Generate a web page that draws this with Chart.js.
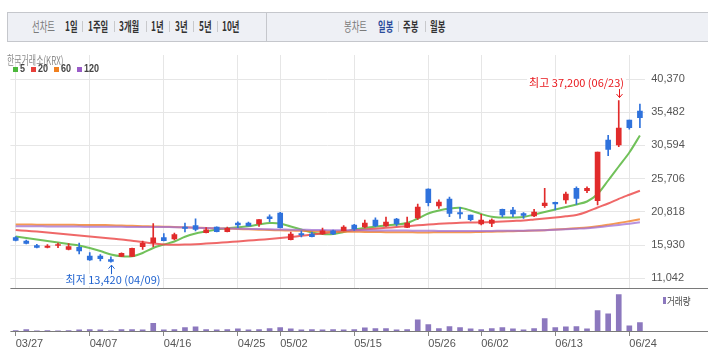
<!DOCTYPE html>
<html><head><meta charset="utf-8">
<script src="https://cdn.jsdelivr.net/npm/chart.js@4"></script>
<style>
body{margin:0;width:708px;height:361px;overflow:hidden;background:#fff;position:relative;font-family:"Noto Sans CJK KR","Noto Sans",sans-serif;}
#bar{position:absolute;left:7px;top:12px;width:702px;height:28px;background:#eef0f5;border:1px solid #c5c7cc;border-right:none;}
#bdiv{position:absolute;left:266px;top:12px;width:1px;height:30px;background:#c5c7cc;}
.t{position:absolute;top:11px;height:30px;line-height:30px;font-size:13px;transform:scaleX(0.64);transform-origin:0 50%;white-space:nowrap;color:#333;font-weight:bold;}
.g{color:#7a7a7a;font-weight:normal;}
.sep{position:absolute;top:21px;width:1px;height:11px;background:#c8c9cc;}
#krx{position:absolute;left:7px;top:52px;font-size:12px;line-height:16px;color:#8a8a8a;transform:scaleX(0.66);transform-origin:0 50%;white-space:nowrap;}
.lg{position:absolute;top:67px;width:5px;height:5px;}
.lt{position:absolute;top:63px;font-size:10px;line-height:12px;font-weight:bold;color:#444;font-family:"Liberation Sans",sans-serif;transform:scaleX(0.9);transform-origin:0 50%;}
#vlg{position:absolute;left:663px;top:297px;width:3px;height:7px;background:#8c78be;}
#vlt{position:absolute;left:667px;top:293px;font-size:10px;line-height:16px;color:#444;transform:scaleX(0.85);transform-origin:0 50%;white-space:nowrap;}
canvas{position:absolute;left:0;}
#pc{top:50px;}
#vc{top:288px;}
</style>
</head><body>
<div id="bar"></div><div id="bdiv"></div>
<span class="t g" style="left:31.7px">선차트</span>
<span class="t" style="left:65px">1일</span><div class="sep" style="left:82px"></div>
<span class="t" style="left:88.3px">1주일</span><div class="sep" style="left:114px"></div>
<span class="t" style="left:119.3px">3개월</span><div class="sep" style="left:145.7px"></div>
<span class="t" style="left:150.7px">1년</span><div class="sep" style="left:169.3px"></div>
<span class="t" style="left:174.7px">3년</span><div class="sep" style="left:193.3px"></div>
<span class="t" style="left:198.7px">5년</span><div class="sep" style="left:216.7px"></div>
<span class="t" style="left:221.7px">10년</span>
<span class="t g" style="left:344.3px">봉차트</span>
<span class="t" style="left:377.7px;color:#2a4b9b">일봉</span><div class="sep" style="left:398.3px"></div>
<span class="t" style="left:403.3px">주봉</span><div class="sep" style="left:425px"></div>
<span class="t" style="left:430px">월봉</span>

<canvas id="pc" width="708" height="240"></canvas>
<canvas id="vc" width="708" height="73"></canvas>

<div id="krx">한국거래소(KRX)</div>
<div class="lg" style="left:12.7px;background:#4cb83c"></div><span class="lt" style="left:19.5px">5</span>
<div class="lg" style="left:31px;background:#e8403a"></div><span class="lt" style="left:38px">20</span>
<div class="lg" style="left:54px;background:#f08020"></div><span class="lt" style="left:61px">60</span>
<div class="lg" style="left:76.7px;background:#9a5cc8"></div><span class="lt" style="left:84px">120</span>
<div id="vlg"></div><div id="vlt">거래량</div>

<script>
const dates = ['03/27','03/28','03/31','04/01','04/02','04/03','04/04','04/07','04/08','04/09',
  '04/10','04/11','04/14','04/15','04/16','04/17','04/18','04/21','04/22','04/23',
  '04/24','04/25','04/28','04/29','04/30','05/02','05/07','05/08','05/09','05/12',
  '05/13','05/14','05/15','05/16','05/19','05/20','05/21','05/22','05/23','05/26',
  '05/27','05/28','05/29','05/30','06/02','06/04','06/05','06/09','06/10','06/11',
  '06/12','06/13','06/16','06/17','06/18','06/19','06/20','06/23','06/24','06/25'];
const tickDates = ['03/27','04/07','04/16','04/25','05/02','05/15','05/26','06/02','06/13','06/24'];
const priceTicks = [11042,15930,20818,25706,30594,35482,40370];

const openP  = [17046,16531,15869,15574,15869,15280,15604,14323,14323,13808,
  14279,14250,15692,16281,17046,16825,18591,18782,17752,18591,
  17899,19179,19179,19032,20106,20651,16722,17605,17561,17561,
  18046,18046,18885,18591,19621,18738,19768,18547,19915,24182,
  21681,22711,20695,20357,19032,19135,21195,21092,20548,20210,
  21725,22225,22564,24285,23932,22461,31393,30657,34336,35660];
const highP  = [17193,16678,16045,16016,16236,16163,16236,14838,14544,14220,
  14794,15500,16531,19077,17634,17708,19179,19812,18488,18620,
  18591,19370,19326,19665,20400,20754,17855,18002,17855,18444,
  18149,18782,18988,19621,19959,20062,19871,20062,21975,24226,
  22608,23005,21490,20357,20460,19812,21240,21490,20695,21195,
  24285,22270,23741,24521,24521,29627,32085,37200,34336,36690];
const lowP   = [16531,16089,15501,15501,15545,15206,14618,13691,13588,13420,
  14220,14220,15309,15692,16531,16678,17855,18002,17708,17870,
  17855,18488,18738,18694,19370,18444,16678,17119,17119,17517,
  17458,18002,18105,18488,18635,18694,18738,18488,19724,21681,
  21343,20106,19871,19474,18885,18635,20062,20106,19871,20106,
  21490,21092,22078,21931,23638,21828,29083,30407,32981,33203];
const closeP = [16604,16163,15574,15795,15986,15721,15059,13735,13926,13544,
  14720,15456,16192,17001,16575,17487,18400,18252,18193,17899,
  18400,18885,18738,19665,19812,18488,17561,17414,17163,18046,
  17561,18591,18296,19179,18738,19326,19032,19179,21534,22166,
  22270,20607,20504,19665,19621,19621,20357,20504,20313,20798,
  22122,21975,23447,22814,24285,29627,30025,33159,33203,34674];
const volume = [30000,131200,28000,31000,29000,30500,128900,132400,127600,29500,
  129800,131500,126900,772300,128400,133100,331900,428700,130600,127300,
  132800,229400,128100,131700,232600,334100,228800,129300,132200,128600,
  130400,127800,131900,329500,231200,233700,128200,130800,1128600,631400,
  229900,432100,331300,228400,129600,231900,332700,229100,128900,232300,
  1231500,329800,428300,431600,228700,2031200,1728400,3630000,528900,831700];
const ma5   = [17193,16972,16751,16531,16310,16089,15869,15501,15059,14544,
  14279,14279,14765,15501,16016,16457,17163,17634,17929,18223,
  18400,18547,18694,18959,19179,19106,18664,18223,17782,17561,
  17561,17855,18223,18444,18635,18812,18959,19179,19842,20577,
  21019,21313,21416,21019,20504,20106,19989,19989,20062,20430,
  20798,21166,21534,21902,22343,23447,25433,27493,29553,32055];
const ma20  = [18149,18032,17914,17767,17620,17472,17325,17178,17046,16899,
  16751,16560,16383,16163,16016,15972,16001,16060,16148,16236,
  16354,16472,16590,16707,16825,16972,17119,17296,17472,17664,
  17855,17973,18105,18223,18341,18473,18591,18709,18841,18959,
  19062,19150,19224,19253,19282,19327,19400,19474,19547,19694,
  19842,19989,20165,20357,20842,21460,22049,22740,23344,23932];
const ma60  = [18959,18950,18940,18930,18920,18910,18900,18890,18885,18850,
  18810,18770,18720,18680,18635,18590,18540,18490,18440,18390,
  18341,18295,18250,18200,18150,18100,18060,18032,17995,17960,
  17929,17910,17890,17870,17850,17830,17811,17805,17800,17800,
  17805,17810,17811,17830,17860,17900,17940,17975,18002,18060,
  18130,18223,18310,18410,18517,18700,18930,19179,19440,19724];
const ma120 = [18709,18700,18690,18680,18670,18660,18650,18640,18635,18625,
  18615,18605,18600,18595,18591,18560,18520,18480,18440,18400,
  18370,18340,18310,18280,18250,18220,18200,18179,18160,18140,
  18120,18110,18100,18095,18090,18085,18076,18065,18050,18035,
  18020,18010,18002,18005,18010,18020,18030,18040,18046,18080,
  18130,18179,18250,18330,18414,18560,18720,18885,19080,19282];

const UP = '#e12b2b', DOWN = '#2f72dc';
const candleColor = openP.map((o,i)=> closeP[i] >= o ? UP : DOWN);
const fmt = v => v.toLocaleString('en-US');
const isTick = i => tickDates.includes(dates[i]);
const AXIS_RIGHT = 62.8, PAD_LEFT = 10.4;
const noPad = s => { s.paddingTop = 0; s.paddingBottom = 0; s.paddingLeft = 0; s.paddingRight = 0; };

const baseLine = {
  id:'baseLine',
  afterDraw(chart){
    const {ctx, chartArea} = chart;
    ctx.save();
    ctx.strokeStyle = '#7a7a7a'; ctx.lineWidth = 1;
    ctx.beginPath();
    const yb = Math.round(chartArea.bottom) + 0.5;
    ctx.moveTo(chartArea.left, yb); ctx.lineTo(chart.width, yb);
    ctx.stroke(); ctx.restore();
  }
};

const annot = {
  id:'annot',
  afterDatasetsDraw(chart){
    const {ctx, scales:{x,y}} = chart;
    const hi = Math.max(...highP), hiIdx = highP.indexOf(hi);
    const lo = Math.min(...lowP), loIdx = lowP.indexOf(lo);
    ctx.save();
    ctx.font = '11px "Noto Sans CJK KR"';
    ctx.textBaseline = 'middle';
    ctx.lineWidth = 1;
    let px = Math.round(x.getPixelForValue(hiIdx)) + 0.5, py = y.getPixelForValue(hi);
    ctx.strokeStyle = ctx.fillStyle = '#e8161b';
    ctx.beginPath();
    ctx.moveTo(px, py-12); ctx.lineTo(px, py-3);
    ctx.moveTo(px-3, py-6.5); ctx.lineTo(px, py-3); ctx.lineTo(px+3, py-6.5);
    ctx.stroke();
    let t = '최고 ' + fmt(hi) + ' (' + dates[hiIdx] + ')';
    let w = ctx.measureText(t).width;
    let tx = px + 4.5 - w, ty = py - 17.5;
    ctx.fillStyle = '#fff'; ctx.fillRect(tx-2, ty-6, w+4, 12);
    ctx.fillStyle = '#e8161b'; ctx.fillText(t, tx, ty);
    px = Math.round(x.getPixelForValue(loIdx)) + 0.5; py = y.getPixelForValue(lo);
    ctx.strokeStyle = ctx.fillStyle = '#1f62cf';
    ctx.beginPath();
    ctx.moveTo(px, py+13); ctx.lineTo(px, py+3);
    ctx.moveTo(px-3, py+6.5); ctx.lineTo(px, py+3); ctx.lineTo(px+3, py+6.5);
    ctx.stroke();
    t = '최저 ' + fmt(lo) + ' (' + dates[loIdx] + ')';
    w = ctx.measureText(t).width;
    tx = px + 1.5 - w/2; ty = py + 18;
    ctx.fillStyle = '#fff'; ctx.fillRect(tx-2, ty-6, w+4, 12);
    ctx.fillStyle = '#1f62cf'; ctx.fillText(t, tx, ty);
    ctx.restore();
  }
};

const maLine = (data, color) => ({
  type:'line', data, borderColor: color, borderWidth: 2, pointRadius: 0,
  tension: 0.3, order: 2
});

new Chart(document.getElementById('pc'), {
  type:'bar',
  data:{
    labels: dates,
    datasets:[
      maLine(ma120, 'rgba(160,110,210,0.75)'),
      maLine(ma60, 'rgba(242,128,40,0.8)'),
      maLine(ma20, 'rgba(236,78,78,0.85)'),
      maLine(ma5, 'rgba(98,186,72,0.9)'),
      { data: lowP.map((l,i)=>[l, highP[i]]), backgroundColor: candleColor,
        barThickness: 1, grouped:false, order: 1 },
      { data: openP.map((o,i)=>[o, closeP[i]]), backgroundColor: candleColor,
        barThickness: 5, minBarLength: 1, grouped:false, order: 0 }
    ]
  },
  options:{
    responsive:false, animation:false, devicePixelRatio:1,
    layout:{padding:{left:PAD_LEFT, top:5, right:0, bottom:2}},
    plugins:{legend:{display:false}, tooltip:{enabled:false}},
    scales:{
      x:{
        offset:true,
        grid:{offset:false, drawTicks:false, color: c => isTick(c.index) ? '#e6e6e6' : 'rgba(0,0,0,0)'},
        border:{display:false},
        ticks:{display:false, autoSkip:false, padding:0},
        afterFit: s => { s.height = 0; noPad(s); }
      },
      y:{
        position:'right', min:9615, max:43902,
        afterBuildTicks: s => { s.ticks = priceTicks.map(v=>({value:v})); },
        grid:{color:'#e6e6e6', drawTicks:false},
        border:{display:false},
        ticks:{padding:6, color:'#555', font:{family:'"Liberation Sans"', size:11}, callback: v => fmt(v)},
        afterFit: s => { s.width = AXIS_RIGHT; noPad(s); }
      }
    }
  },
  plugins:[annot, baseLine]
});

new Chart(document.getElementById('vc'), {
  type:'bar',
  data:{ labels: dates, datasets:[{ data: volume, backgroundColor:'#8c78be', barThickness:5 }] },
  options:{
    responsive:false, animation:false, devicePixelRatio:1,
    layout:{padding:{left:PAD_LEFT, top:3, right:AXIS_RIGHT, bottom:0}},
    plugins:{legend:{display:false}, tooltip:{enabled:false}},
    scales:{
      x:{
        offset:true,
        grid:{offset:false, drawOnChartArea:false, drawTicks:true, tickLength:5,
              tickColor: c => isTick(c.index) ? '#888' : 'rgba(0,0,0,0)'},
        border:{display:false},
        ticks:{autoSkip:false, maxRotation:0, align:'start', padding:1, color:'#555',
               font:{family:'"Liberation Sans"', size:11},
               callback: (v,i) => isTick(i) ? dates[i] : ''},
        afterFit: s => { s.height = 30; noPad(s); }
      },
      y:{ display:false, min:0, max:4000000 }
    }
  },
  plugins:[baseLine]
});
</script>
</body></html>
